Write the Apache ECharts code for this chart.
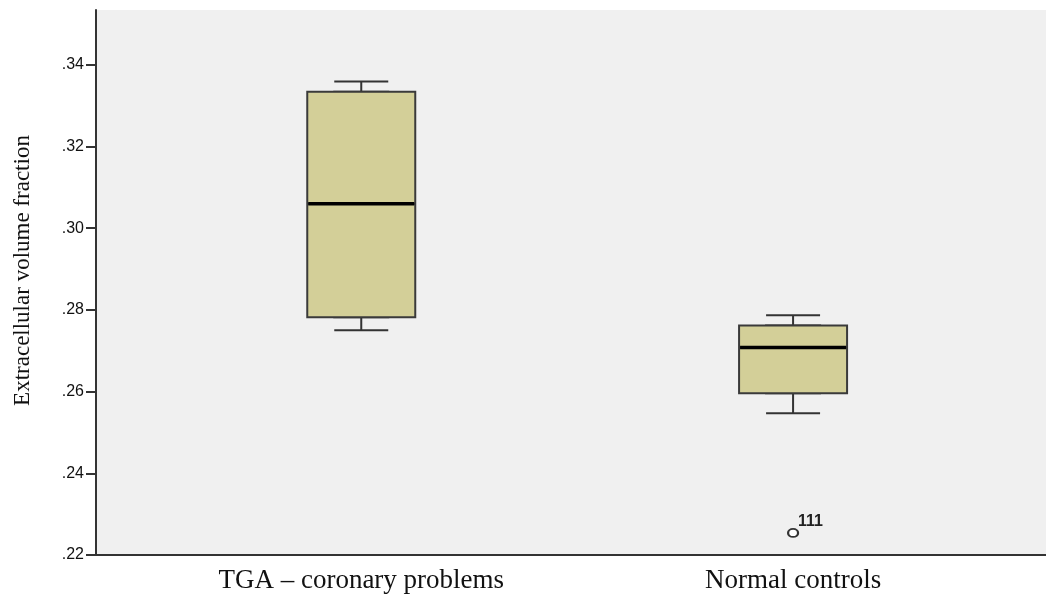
<!DOCTYPE html>
<html>
<head>
<meta charset="utf-8">
<script src="https://cdn.jsdelivr.net/npm/echarts@6/dist/echarts.min.js"></script>
<style>
  body { margin: 0; background: #fff; }
  #box { width: 1046px; height: 594px; }
</style>
</head>
<body>
<div id="box"></div>
<script>
// 数据: 两组的箱线图五数
const groups = ['TGA – coronary problems', 'Normal controls']
const lowWhisker = [0.2750, 0.2547]
const q1 = [0.2782, 0.2596]
const median = [0.3060, 0.2708]
const q3 = [0.3334, 0.2762]
const highWhisker = [0.3359, 0.2787]
// 离群点
const outlierGroup = [1]
const outlierValues = [0.2254]
const outlierLabels = ['111']
// y轴刻度
const yTicks = [0.22, 0.24, 0.26, 0.28, 0.30, 0.32, 0.34]

// x轴分成若干格, 两组放在指定格上 (对齐原图位置)
const slotCount = 77
const groupSlot = [21, 56]
const slots = Array.from({ length: slotCount }, () => '')
groupSlot.forEach((s, i) => { slots[s] = groups[i] })

const emptyBox = ['-', '-', '-', '-', '-']
// 须线 (窄) 和箱体 (宽) 分开画
const whiskerData = slots.map(() => emptyBox)
const boxData = slots.map(() => emptyBox)
groupSlot.forEach((s, i) => {
  whiskerData[s] = [lowWhisker[i], q1[i], median[i], q3[i], highWhisker[i]]
  boxData[s] = [q1[i], q1[i], median[i], q3[i], q3[i]]
})
const medianData = groupSlot.map((s, i) => [s, median[i]])
const outlierData = outlierGroup.map((g, i) => ({
  value: [groupSlot[g], outlierValues[i]],
  label: { formatter: outlierLabels[i] }
}))

const myChart = echarts.init(document.querySelector('#box'))
const option = {
  animation: false,
  grid: {
    left: 96,
    top: 10,
    right: 0,
    bottom: 38,
    show: true,
    backgroundColor: '#f0f0f0',
    borderWidth: 0
  },
  xAxis: [
    {
      type: 'category',
      data: slots,
      axisLine: { lineStyle: { color: '#333', width: 2 } },
      axisTick: {
        alignWithLabel: true,
        length: 7,
        interval: (index, value) => value !== '',
        lineStyle: { color: '#333', width: 2 }
      },
      axisLabel: {
        interval: 0,
        margin: 12,
        color: '#111',
        fontFamily: 'Liberation Serif',
        fontSize: 27
      }
    },
    {
      type: 'category',
      data: slots,
      show: false
    }
  ],
  yAxis: {
    type: 'value',
    min: 0.22,
    max: 0.3534,
    name: 'Extracellular volume fraction',
    nameLocation: 'middle',
    nameGap: 62,
    nameTextStyle: {
      fontFamily: 'Liberation Serif',
      fontSize: 23,
      color: '#111',
      padding: [0, 0, 0, 24]
    },
    splitLine: { show: false },
    axisLine: { show: true, lineStyle: { color: '#333', width: 2 } },
    axisTick: {
      show: true,
      length: 10,
      customValues: yTicks,
      lineStyle: { color: '#333', width: 2 }
    },
    axisLabel: {
      customValues: yTicks,
      margin: 12,
      color: '#111',
      fontFamily: 'Liberation Sans',
      fontSize: 16,
      formatter: v => v.toFixed(2).replace(/^0/, '')
    }
  },
  series: [
    {
      // 须线 + 端线
      type: 'boxplot',
      xAxisIndex: 1,
      boxWidth: [54, 54],
      data: whiskerData,
      itemStyle: { color: '#d3cf98', borderColor: '#333', borderWidth: 2 },
      emphasis: { disabled: true },
      silent: true
    },
    {
      // 箱体
      type: 'boxplot',
      xAxisIndex: 0,
      boxWidth: [108, 108],
      data: boxData,
      itemStyle: { color: '#d3cf98', borderColor: '#3a3a3a', borderWidth: 2 },
      emphasis: { disabled: true },
      silent: true
    },
    {
      // 中位线
      type: 'scatter',
      symbol: 'rect',
      symbolSize: [106, 3.5],
      data: medianData,
      itemStyle: { color: '#000', opacity: 1 },
      silent: true
    },
    {
      // 离群点
      type: 'scatter',
      symbol: 'emptyCircle',
      symbolSize: [10, 8],
      data: outlierData,
      itemStyle: { color: '#333', borderWidth: 2, opacity: 1 },
      label: {
        show: true,
        position: [11, -14],
        color: '#222',
        fontFamily: 'Liberation Sans',
        fontWeight: 'bold',
        fontSize: 16
      },
      silent: true
    }
  ]
}
myChart.setOption(option)
</script>
</body>
</html>
